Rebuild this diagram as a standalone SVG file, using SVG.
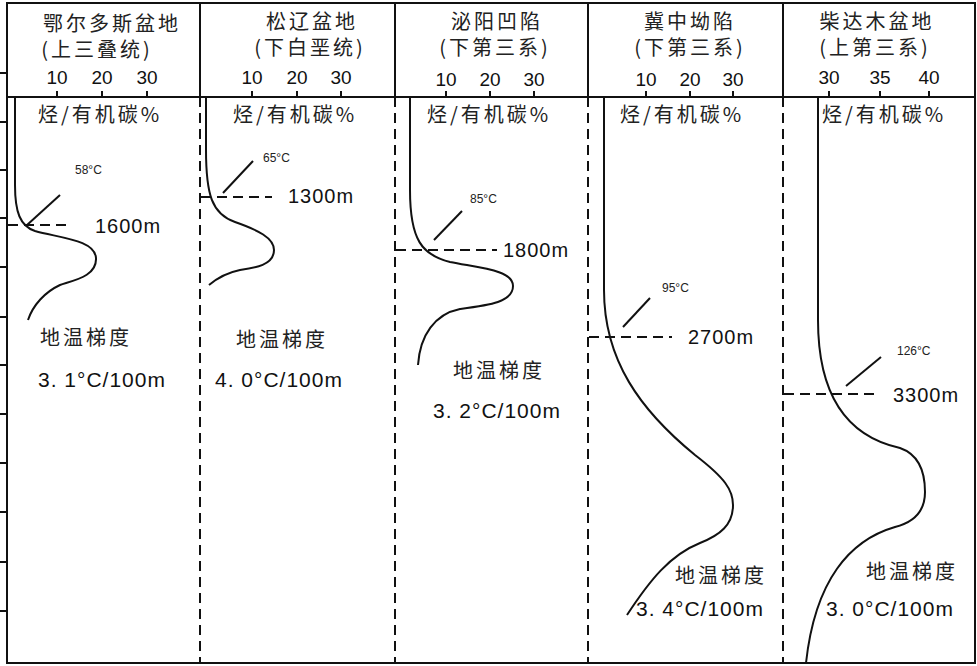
<svg xmlns="http://www.w3.org/2000/svg" width="977" height="666" viewBox="0 0 977 666">
<style>
.t{font-family:"Noto Sans CJK SC","Liberation Sans",sans-serif;fill:#222}
.h{font-size:20px;text-anchor:middle;letter-spacing:3px}
.ax{font-family:"Liberation Sans",sans-serif;font-size:19px;fill:#111;text-anchor:middle}
.m{font-family:"Liberation Sans",sans-serif;font-size:20px;fill:#111;letter-spacing:1px}
.c{font-family:"Liberation Sans",sans-serif;font-size:12px;fill:#222}
.k{font-size:20px;letter-spacing:3px}
.v{font-family:"Liberation Sans",sans-serif;font-size:21px;fill:#111;letter-spacing:1px}
.ln{stroke:#111;stroke-width:2;fill:none}
.d{stroke:#111;stroke-width:2;stroke-dasharray:10,6;fill:none}
.cv{stroke:#111;stroke-width:2;fill:none}
</style>
<rect width="977" height="666" fill="#fff"/>
<g id="frame">
<rect x="7" y="3" width="968" height="660" class="ln"/>
<line x1="7" y1="97" x2="975" y2="97" class="ln"/>
<line x1="200" y1="3" x2="200" y2="97" class="ln"/>
<line x1="395" y1="3" x2="395" y2="97" class="ln"/>
<line x1="588" y1="3" x2="588" y2="97" class="ln"/>
<line x1="783" y1="3" x2="783" y2="97" class="ln"/>
<path class="ln" d="M0 73H7M0 122H7M0 170H7M0 218H7M0 267H7M0 317H7M0 365H7M0 414H7M0 463H7M0 512H7M0 562H7M0 611H7"/>
<path class="ln" d="M57 91V97M102 91V97M147 91V97M252 91V97M297 91V97M341 91V97M446 91V97M490 91V97M534 91V97M646 91V97M690 91V97M733 91V97M829 91V97M880 91V97M929 91V97"/>
</g>
<g id="connectors">
<line x1="200" y1="97" x2="200" y2="663" class="d"/>
<line x1="395" y1="97" x2="395" y2="663" class="d"/>
<line x1="588" y1="97" x2="588" y2="663" class="d"/>
<line x1="783" y1="97" x2="783" y2="663" class="d"/>
</g>
<g id="col1">
<text class="t h" x="112" y="31">鄂尔多斯盆地</text>
<text class="t h" x="97" y="57">(上三叠统)</text>
<text class="ax" x="57" y="84">10</text><text class="ax" x="102" y="84">20</text><text class="ax" x="147" y="84">30</text>
<text class="t k" x="38" y="122">烃/有机碳%</text>
<path class="cv" d="M15 97V185C15 212 20 226 35 231C60 238 95 240 96 258C97 276 75 280 60 285C45 292 33 305 28 320"/>
<line class="ln" x1="27" y1="225" x2="60" y2="195" stroke-width="1.5"/>
<text class="c" x="75" y="174">58°C</text>
<line class="d" x1="8" y1="225" x2="72" y2="225"/>
<text class="m" x="95" y="233">1600m</text>
<text class="t k" x="40" y="345">地温梯度</text>
<text class="v" x="38" y="387">3. 1°C/100m</text>
</g>
<g id="col2">
<text class="t h" x="312" y="29">松辽盆地</text>
<text class="t h" x="310" y="55">(下白垩统)</text>
<text class="ax" x="252" y="84">10</text><text class="ax" x="297" y="84">20</text><text class="ax" x="341" y="84">30</text>
<text class="t k" x="233" y="122">烃/有机碳%</text>
<path class="cv" d="M206 97V150C206 195 212 214 235 222C258 230 274 238 274 250C274 265 255 268 240 270C225 273 215 280 209 285"/>
<line class="ln" x1="223" y1="193" x2="253" y2="161" stroke-width="1.5"/>
<text class="c" x="263" y="162">65°C</text>
<line class="d" x1="201" y1="197" x2="272" y2="197"/>
<text class="m" x="288" y="203">1300m</text>
<text class="t k" x="236" y="347">地温梯度</text>
<text class="v" x="215" y="387">4. 0°C/100m</text>
</g>
<g id="col3">
<text class="t h" x="497" y="29">泌阳凹陷</text>
<text class="t h" x="495" y="55">(下第三系)</text>
<text class="ax" x="446" y="86">10</text><text class="ax" x="490" y="86">20</text><text class="ax" x="534" y="86">30</text>
<text class="t k" x="427" y="122">烃/有机碳%</text>
<path class="cv" d="M410 97V190C410 240 422 255 450 262C480 268 513 270 513 286C513 302 490 305 460 309C435 314 420 335 418 365"/>
<line class="ln" x1="434" y1="240" x2="462" y2="211" stroke-width="1.5"/>
<text class="c" x="470" y="203">85°C</text>
<line class="d" x1="396" y1="250" x2="497" y2="250"/>
<text class="m" x="503" y="257">1800m</text>
<text class="t k" x="453" y="378">地温梯度</text>
<text class="v" x="433" y="418">3. 2°C/100m</text>
</g>
<g id="col4">
<text class="t h" x="690" y="29">冀中坳陷</text>
<text class="t h" x="690" y="55">(下第三系)</text>
<text class="ax" x="646" y="86">10</text><text class="ax" x="690" y="86">20</text><text class="ax" x="733" y="86">30</text>
<text class="t k" x="620" y="122">烃/有机碳%</text>
<path class="cv" d="M604 97V290C604 360 640 410 695 455C725 478 733 490 733 505C733 525 720 535 700 543C670 555 650 580 627 615"/>
<line class="ln" x1="623" y1="327" x2="650" y2="298" stroke-width="1.5"/>
<text class="c" x="662" y="292">95°C</text>
<line class="d" x1="589" y1="337" x2="672" y2="337"/>
<text class="m" x="688" y="344">2700m</text>
<text class="t k" x="675" y="583">地温梯度</text>
<text class="v" x="636" y="616">3. 4°C/100m</text>
</g>
<g id="col5">
<text class="t h" x="877" y="29">柴达木盆地</text>
<text class="t h" x="875" y="55">(上第三系)</text>
<text class="ax" x="829" y="84">30</text><text class="ax" x="880" y="84">35</text><text class="ax" x="929" y="84">40</text>
<text class="t k" x="822" y="122">烃/有机碳%</text>
<path class="cv" d="M818 97V320C818 400 850 437 900 448C920 455 925 475 925 492C925 510 915 522 895 527C850 540 815 580 806 663"/>
<line class="ln" x1="846" y1="386" x2="881" y2="357" stroke-width="1.5"/>
<text class="c" x="897" y="355">126°C</text>
<line class="d" x1="784" y1="394" x2="876" y2="394"/>
<text class="m" x="893" y="402">3300m</text>
<text class="t k" x="866" y="579">地温梯度</text>
<text class="v" x="826" y="616">3. 0°C/100m</text>
</g>
</svg>
